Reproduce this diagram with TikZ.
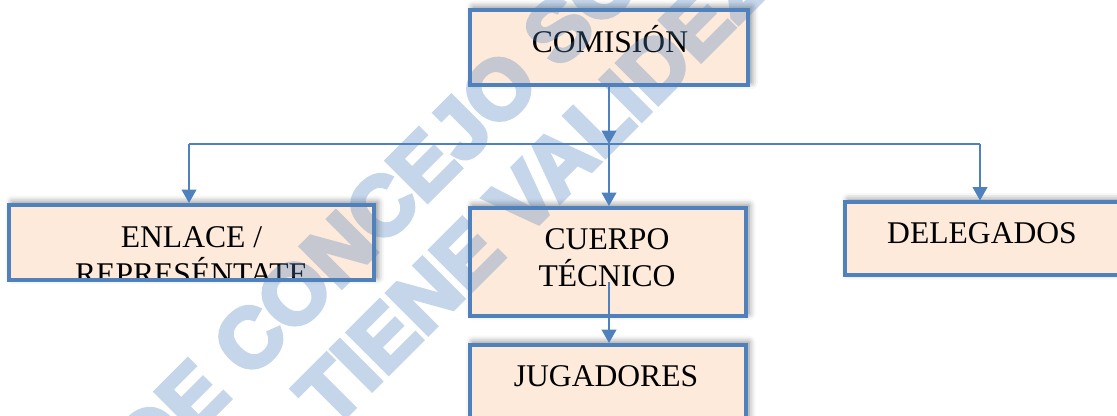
\documentclass[tikz,border=0pt]{standalone}
\usepackage{fontspec}
\setmainfont{Liberation Serif}
\newfontfamily\wmfont{Liberation Sans Bold}[FakeBold=5]
\usetikzlibrary{arrows.meta,calc,shadows.blur}
\definecolor{boxblue}{RGB}{79,129,189}
\definecolor{boxfill}{RGB}{253,234,218}
\begin{document}
\begin{tikzpicture}[x=0.75pt,y=-0.75pt,
  orgbox/.style={draw=boxblue, line width=3pt, fill=boxfill, inner sep=0pt,
     blur shadow={shadow xshift=2.5pt, shadow yshift=2pt, shadow blur radius=5pt, shadow opacity=50}},
  lbl/.style={font=\fontsize{23.7}{27.75}\selectfont, inner sep=0pt, anchor=base, text=black},
  link/.style={draw=boxblue, line width=1.2pt},
  conn/.style={link, -{Triangle[width=11pt,length=10pt]}},
  wm/.style={font=\wmfont\fontsize{63}{70}\selectfont, text=boxblue, inner sep=0pt, anchor=base west, rotate=45}
]
\useasboundingbox (0,0) rectangle (1117,416);
\clip (0,0) rectangle (1117,416);

% boxes
\node[orgbox, minimum width=208.5pt, minimum height=56.25pt] (com) at (609,47.5) {};
\node[orgbox, minimum width=273.75pt, minimum height=56.25pt] (enl) at (191.5,242.5) {};
\node[orgbox, minimum width=207pt, minimum height=81pt] (cue) at (607.5,262) {};
\node[orgbox, minimum width=207pt, minimum height=81pt] (jug) at (607.5,399) {};
\node[orgbox, minimum width=225pt, minimum height=54.75pt] (del) at (995,239) {};

% labels
\node[lbl] (comt) at (610,53) {COMISIÓN};
\begin{scope}
  \clip ($(enl.south west)+(4,-4)$) rectangle ($(enl.north east)+(-4,4)$);
  \node[lbl] (enlt1) at (191.5,248) {ENLACE /};
  \node[lbl] (enlt2) at (191.5,285) {REPRESÉNTATE};
\end{scope}
\node[lbl] (cuet1) at (607,250) {CUERPO};
\node[lbl] (cuet2) at (607,287) {TÉCNICO};
\node[lbl] (delt) at (982,244) {DELEGADOS};
\node[lbl] (jugt) at (606,387) {JUGADORES};

% connectors
\coordinate (j) at (609,144);
\coordinate (jl) at (189,144);
\coordinate (jr) at (980,144);
\coordinate (cs) at (609,282);
\draw[conn] (com) -- (j);
\draw[link] (jl) -- (jr);
\draw[conn] (j) -- (j |- cue.north);
\draw[conn] (jl) -- (jl |- enl.north);
\draw[conn] (jr) -- (jr |- del.north);
\draw[conn] (cs) -- (cs |- jug.north);

% watermark
\begin{scope}[transparency group, opacity=0.32]
  \node[wm] (wm1) at (149.6,479.5) {DE CONCEJO SO};
  \node[wm] (wm2) at (331.7,430.4) {TIENE VALIDEZ};
\end{scope}
\end{tikzpicture}
\end{document}
